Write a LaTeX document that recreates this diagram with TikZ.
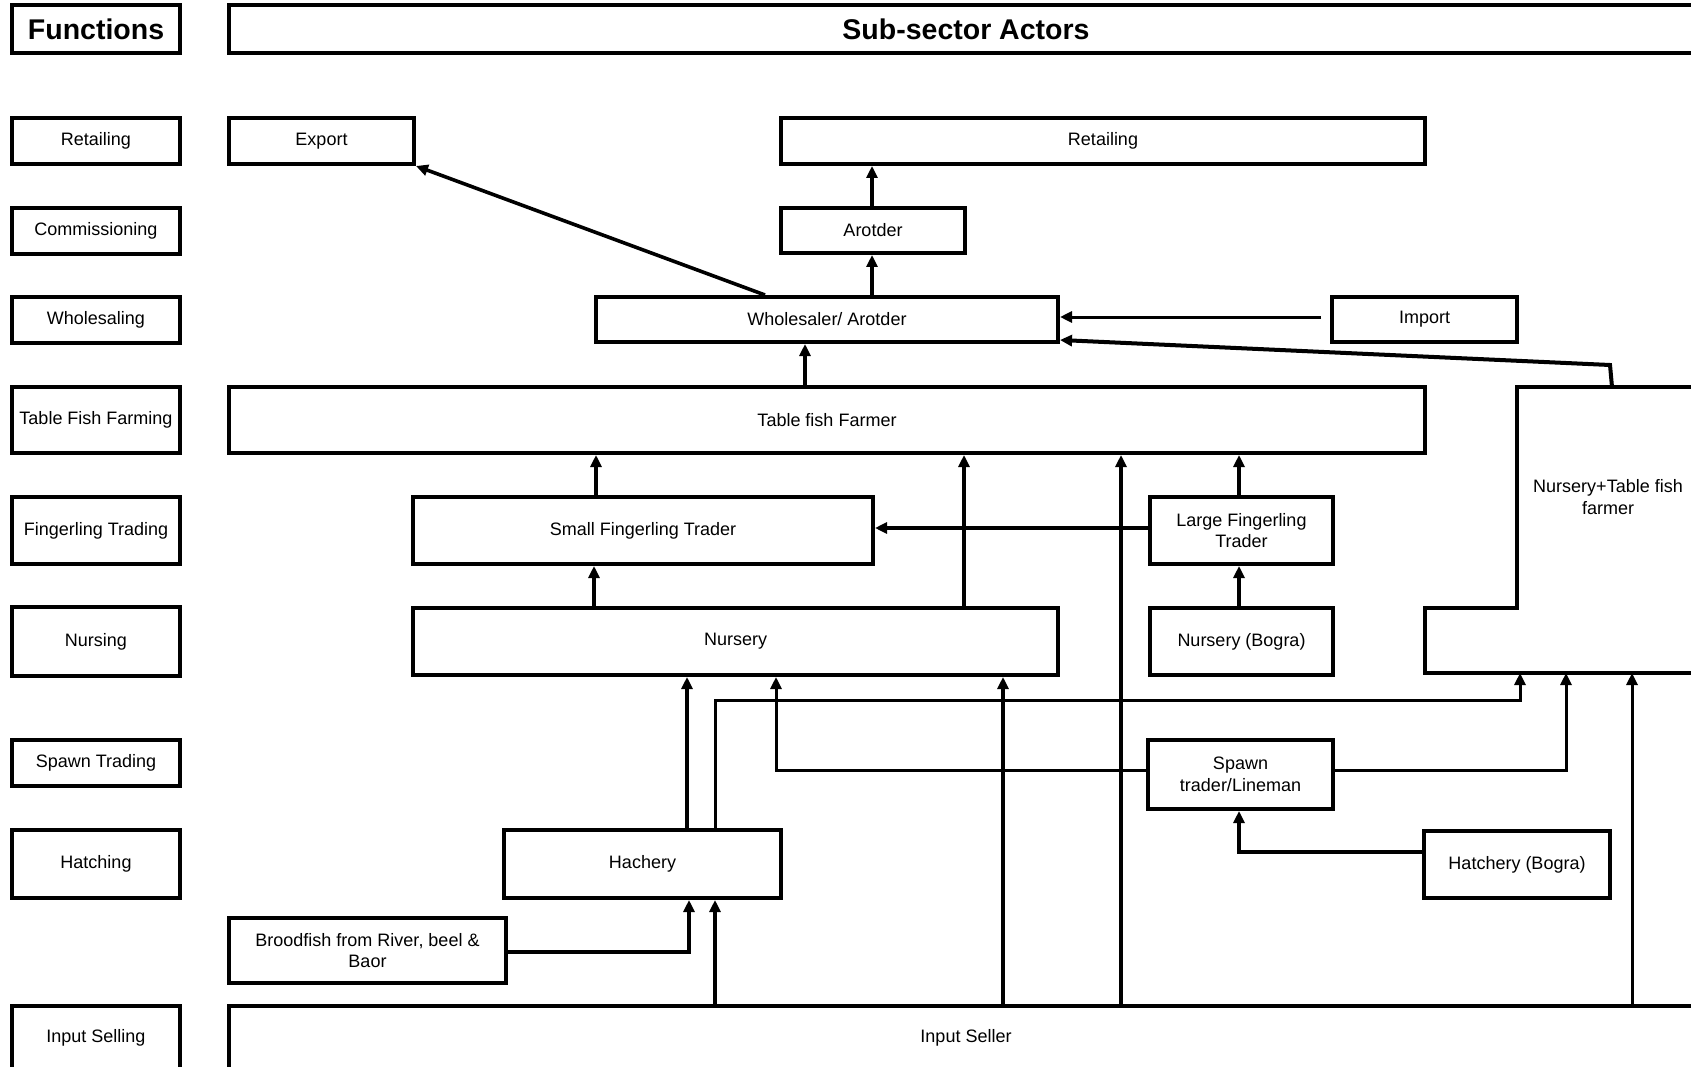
\documentclass[tikz,border=0pt]{standalone}
\usepackage{fontspec}
\setmainfont{Liberation Sans}
\usetikzlibrary{arrows.meta,calc}
\newcommand\bx[7][]{\node[box,#1,minimum width={#5-#3},minimum height={#6-#4}] (#2) at ({(#3+#5)/2},{(#4+#6)/2}) {#7};}
\begin{document}
\begin{tikzpicture}[x=1pt,y=-1pt,
  box/.style={draw,line width=4pt,inner sep=0pt,align=center,font=\fontsize{18}{21.5}\selectfont},
  hdr/.style={font=\fontsize{28.5}{32}\selectfont\bfseries},
  lbl/.style={inner sep=0pt,align=center,font=\fontsize{18}{21.5}\selectfont},
  conn/.style={line width=3.6pt,-{Triangle[length=12pt,width=11pt]}},
  thin/.style={line width=3pt},
  shapeline/.style={line width=4pt}]
\useasboundingbox (0,0) rectangle (1691,1067);
\clip (0,0) rectangle (1691,1067);
% headers
\bx[hdr]{fun}{12}{5}{180}{53}{Functions}
\bx[hdr]{sub}{229}{5}{1703}{53}{Sub-sector Actors}
% function column
\bx{fRet}{12}{118}{180}{164}{Retailing}
\bx{fCom}{12}{208}{180}{254}{Commissioning}
\bx{fWho}{12}{297}{180}{343}{Wholesaling}
\bx{fTab}{12}{387}{180}{453}{Table Fish Farming}
\bx{fFin}{12}{497}{180}{564}{Fingerling Trading}
\bx{fNur}{12}{607}{180}{676}{Nursing}
\bx{fSpa}{12}{740}{180}{786}{Spawn Trading}
\bx{fHat}{12}{830}{180}{898}{Hatching}
\bx{fInp}{12}{1006}{180}{1070}{Input Selling}
% actors
\bx{export}{229}{118}{414}{164}{Export}
\bx{retail}{781}{118}{1425}{164}{Retailing}
\bx{arot}{781}{208}{965}{253}{Arotder}
\bx{whole}{596}{297}{1058}{342}{Wholesaler/ Arotder}
\bx{import}{1332}{297}{1517}{342}{Import}
\bx{table}{229}{387}{1425}{453}{Table fish Farmer}
\bx{small}{413}{497}{873}{564}{Small Fingerling Trader}
\bx{large}{1150}{497}{1333}{564}{Large Fingerling\\Trader}
\bx{nursery}{413}{608}{1058}{675}{Nursery}
\bx{nbogra}{1150}{608}{1333}{675}{Nursery (Bogra)}
\bx{spawn}{1148}{740}{1333}{809}{Spawn\\trader/Lineman}
\bx{hach}{504}{830}{781}{898}{Hachery}
\bx{hbogra}{1424}{831}{1610}{898}{Hatchery (Bogra)}
\bx{brood}{229}{918}{506}{983}{Broodfish from River, beel \&\\Baor}
\bx{input}{229}{1006}{1703}{1070}{Input Seller}
% Nursery + Table fish farmer (stepped shape)
\draw[shapeline] (1517,387) -- (1712,387) -- (1712,673) -- (1425,673) -- (1425,608) -- (1517,608) -- cycle;
\node[lbl] (nt) at (1608,497) {Nursery+Table fish\\farmer};
\coordinate (ntt) at (1612,387);
\coordinate (ntb) at (1500,673);
% connectors
\draw[conn] (765,0 |- whole.north) -- (export.south east);
\draw[conn] (872,0 |- arot.north) -- (872,0 |- retail.south);
\draw[conn] (872,0 |- whole.north) -- (872,0 |- arot.south);
\draw[conn,thin,shorten <=9pt] (import.west |- 0,317) -- (whole.east |- 0,317);
\draw[conn,line width=4pt] (ntt) -- (1610,365) -- (whole.east |- 0,340);
\draw[conn] (805,0 |- table.north) -- (805,0 |- whole.south);
\draw[conn] (596,0 |- small.north) -- (596,0 |- table.south);
\draw[conn] (964,0 |- nursery.north) -- (964,0 |- table.south);
\draw[conn] (1121,0 |- input.north) -- (1121,0 |- table.south);
\draw[conn] (1239,0 |- large.north) -- (1239,0 |- table.south);
\draw[conn,line width=4.2pt] (large.west |- 0,528) -- (small.east |- 0,528);
\draw[conn] (594,0 |- nursery.north) -- (594,0 |- small.south);
\draw[conn] (1239,0 |- nbogra.north) -- (1239,0 |- large.south);
\draw[conn] (687,0 |- hach.north) -- (687,0 |- nursery.south);
\draw[conn,thin] (715,0 |- hach.north) -- (715,700) -- (1520,700) -- (1520,0 |- ntb);
\draw[conn,thin] (spawn.west |- 0,770) -- (776,770) -- (776,0 |- nursery.south);
\draw[conn,thin] (spawn.east |- 0,770) -- (1566,770) -- (1566,0 |- ntb);
\draw[conn] (1003,0 |- input.north) -- (1003,0 |- nursery.south);
\draw[conn] (brood.east |- 0,952) -- (689,952) -- (689,0 |- hach.south);
\draw[conn] (715,0 |- input.north) -- (715,0 |- hach.south);
\draw[conn] (hbogra.west |- 0,852) -- (1239,852) -- (1239,0 |- spawn.south);
\draw[conn,thin] (1632,0 |- input.north) -- (1632,0 |- ntb);
\end{tikzpicture}
\end{document}
